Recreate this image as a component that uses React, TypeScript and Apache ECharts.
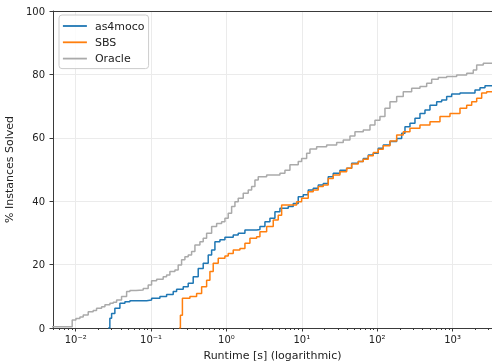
import React, { useEffect, useRef } from "react";
import * as echarts from "echarts";

// Runtime [s] and % instances solved
const oracleT = [0.004, 0.00899, 0.01007, 0.01138, 0.01259, 0.01466, 0.01706, 0.01892, 0.02208, 0.02443, 0.02844, 0.03148, 0.0349, 0.0406, 0.0474, 0.0524, 0.063, 0.0787, 0.0916, 0.1016, 0.1186, 0.1449, 0.1607, 0.1778, 0.2073, 0.2291, 0.2541, 0.2812, 0.3112, 0.3451, 0.3819, 0.4449, 0.4921, 0.5458, 0.6365, 0.7413, 0.8635, 0.9552, 1.0565, 1.172, 1.297, 1.434, 1.671, 1.947, 2.16, 2.389, 2.642, 3.417, 5.129, 5.974, 6.962, 8.972, 9.954, 11.6, 12.83, 15.74, 21.37, 29.01, 35.48, 43.55, 50.75, 65.4, 80.3, 93.5, 108.9, 126.9, 147.9, 181.5, 222, 287, 370, 454, 529, 647, 836, 1135, 1541, 1885, 2092, 2559, 3600];
const oracleP = [0.4, 2.5, 3.0, 3.5, 4.1, 5.1, 5.5, 6.2, 6.7, 7.3, 7.8, 8.1, 8.8, 9.9, 11.5, 11.8, 12.0, 12.5, 13.6, 14.9, 15.4, 16.2, 16.7, 17.8, 18.3, 19.9, 21.5, 22.5, 23.0, 24.1, 26.2, 27.2, 28.3, 29.9, 32.0, 33.0, 33.5, 34.6, 36.2, 38.3, 39.8, 40.9, 42.5, 43.5, 44.6, 46.7, 47.7, 48.3, 48.8, 49.8, 51.5, 52.5, 53.5, 55.1, 56.5, 57.2, 57.7, 58.5, 59.3, 60.6, 61.9, 62.5, 64.0, 65.5, 66.7, 69.3, 71.4, 73.0, 74.5, 75.6, 76.2, 77.2, 78.5, 79.0, 79.3, 79.8, 80.4, 81.4, 83.0, 83.5, 83.5];

const as4mocoT = [0.027, 0.0284, 0.02996, 0.0331, 0.0386, 0.045, 0.0524, 0.0873, 0.1017, 0.1311, 0.1608, 0.1968, 0.2183, 0.2672, 0.3112, 0.3625, 0.4224, 0.4921, 0.5734, 0.6362, 0.7036, 0.8198, 0.9552, 1.231, 1.434, 1.76, 2.516, 2.784, 3.243, 3.778, 4.402, 5.129, 6.609, 7.7, 8.972, 10.45, 12.18, 14.19, 16.54, 19.27, 22.44, 26.15, 32.08, 39.38, 45.87, 56.14, 65.4, 76.2, 88.8, 103.4, 120.5, 147.9, 181.5, 211.4, 233.9, 272.4, 317.5, 369.8, 430.9, 502, 616, 718, 836, 974, 1256, 1986, 2313, 2696, 3600];
const as4mocoP = [0, 3.1, 4.6, 6.2, 7.8, 8.3, 8.6, 8.8, 9.4, 9.9, 10.6, 11.5, 12.2, 13.0, 14.1, 16.2, 18.8, 20.4, 23.0, 24.6, 27.2, 27.8, 28.6, 29.3, 29.9, 30.9, 31.1, 32.0, 33.5, 34.6, 36.7, 37.8, 38.3, 39.3, 41.4, 42.0, 43.5, 44.1, 45.1, 45.6, 47.7, 48.8, 49.8, 50.4, 52.0, 52.5, 53.5, 54.6, 55.1, 56.7, 57.7, 58.8, 59.8, 61.4, 63.5, 64.6, 66.2, 67.7, 68.8, 70.3, 71.4, 71.9, 73.0, 73.8, 74.1, 75.1, 75.8, 76.4, 76.4];

const sbsT = [0.2363, 0.2451, 0.2606, 0.3279, 0.4022, 0.4688, 0.5461, 0.6039, 0.6679, 0.7784, 0.9552, 1.0565, 1.231, 1.511, 1.76, 2.051, 2.516, 2.784, 3.417, 4.179, 4.869, 5.403, 7.333, 8.545, 9.954, 12.18, 14.19, 16.54, 19.27, 22.44, 26.15, 32.08, 39.38, 45.87, 56.14, 65.4, 76.2, 88.8, 103.4, 120.5, 147.9, 181.5, 222, 272.4, 369.8, 502, 681.5, 925, 1256, 1541, 1796, 2092, 2437, 2839, 3600];
const sbsP = [0, 4.0, 9.4, 9.9, 10.9, 13.0, 15.1, 17.8, 20.4, 22.0, 22.7, 23.5, 24.6, 25.1, 26.7, 28.3, 28.8, 30.4, 32.0, 34.1, 35.6, 38.8, 38.8, 39.8, 40.9, 43.0, 43.5, 44.6, 45.1, 47.2, 48.3, 49.3, 50.4, 51.7, 52.5, 53.2, 54.3, 55.4, 56.4, 57.5, 59.0, 60.9, 61.9, 63.0, 64.0, 65.1, 66.7, 67.7, 69.3, 70.3, 71.4, 72.5, 74.1, 74.5, 74.5];

const majorTicks = [0.01, 0.1, 1, 10, 100, 1000];
const majorLabels = ["10⁻²", "10⁻¹", "10⁰", "10¹", "10²", "10³"];

const X_MIN = 0.005;
const X_MAX = 3340;

const FONT = "DejaVu Sans";

function zip(t: number[], p: number[]) {
  return t.map((v, i) => [v, p[i]]);
}

export default function App() {
  const ref = useRef<HTMLDivElement>(null);
  useEffect(() => {
    document.body.style.margin = "0";
    if (!ref.current) return;
    const chart = echarts.init(ref.current, undefined, { renderer: "svg" });

    const minorTicks: number[] = [];
    for (let k = -3; k <= 3; k++) {
      for (let m = 2; m <= 9; m++) {
        const v = parseFloat((m * Math.pow(10, k)).toPrecision(3));
        if (v >= X_MIN && v <= X_MAX) minorTicks.push(v);
      }
    }

    const spine = { color: "#3a3a3a", width: 1 };
    const tickStyle = { color: "#3a3a3a", width: 1 };
    const grid = { color: "#ebebeb", width: 1 };

    chart.setOption({
      animation: false,
      textStyle: { fontFamily: FONT },
      grid: {
        left: 53,
        right: 0,
        top: 11,
        bottom: 36,
        containLabel: false,
        outerBoundsMode: "none",
      },
      legend: {
        orient: "vertical",
        left: 59,
        top: 15,
        padding: [5, 4, 4, 3],
        itemWidth: 24,
        itemHeight: 10,
        itemGap: 4.3,
        itemStyle: { opacity: 0 },
        lineStyle: { width: 1.8 },
        backgroundColor: "rgba(255,255,255,0.85)",
        borderColor: "#cccccc",
        borderWidth: 1,
        borderRadius: 3,
        textStyle: {
          fontFamily: FONT,
          fontSize: 11,
          lineHeight: 12,
          color: "#222",
          padding: [0, 0, 0, 3],
        },
        data: ["as4moco", "SBS", "Oracle"],
      },
      xAxis: [
        {
          type: "log",
          min: X_MIN,
          max: X_MAX,
          position: "bottom",
          name: "Runtime [s] (logarithmic)",
          nameLocation: "middle",
          nameGap: 22,
          nameTextStyle: { fontFamily: FONT, fontSize: 11, color: "#222" },
          axisLine: { show: true, onZero: false, lineStyle: spine },
          axisTick: { show: true, customValues: majorTicks, length: 3.5, lineStyle: tickStyle },
          axisLabel: {
            customValues: majorTicks,
            fontFamily: FONT,
            fontSize: 10,
            color: "#222",
            margin: 6,
            formatter: (v: number) => {
              const i = majorTicks.findIndex((m) => Math.abs(Math.log10(m) - Math.log10(v)) < 1e-6);
              return i >= 0 ? majorLabels[i] : "";
            },
          },
          splitLine: { show: true, lineStyle: grid },
        },
        {
          type: "log",
          min: X_MIN,
          max: X_MAX,
          position: "bottom",
          axisLine: { show: false },
          axisTick: { show: true, customValues: minorTicks, length: 2, lineStyle: tickStyle },
          axisLabel: { show: false },
          splitLine: { show: false },
        },
        {
          type: "log",
          min: X_MIN,
          max: X_MAX,
          position: "top",
          axisLine: { show: true, onZero: false, lineStyle: spine },
          axisTick: { show: false },
          axisLabel: { show: false },
          splitLine: { show: false },
        },
      ],
      yAxis: {
        type: "value",
        min: 0,
        max: 100,
        interval: 20,
        name: "% Instances Solved",
        nameLocation: "middle",
        nameGap: 34,
        nameTextStyle: { fontFamily: FONT, fontSize: 11, color: "#222" },
        axisLine: { show: true, lineStyle: spine },
        axisTick: { show: true, length: 3.5, lineStyle: tickStyle },
        axisLabel: { fontFamily: FONT, fontSize: 10, color: "#222", margin: 8 },
        splitLine: { show: true, lineStyle: grid },
      },
      series: [
        {
          name: "as4moco",
          type: "line",
          step: "end",
          symbol: "none",
          xAxisIndex: 0,
          data: zip(as4mocoT, as4mocoP),
          lineStyle: { color: "#1f77b4", width: 1.5 },
          itemStyle: { color: "#1f77b4" },
        },
        {
          name: "SBS",
          type: "line",
          step: "end",
          symbol: "none",
          xAxisIndex: 0,
          data: zip(sbsT, sbsP),
          lineStyle: { color: "#ff7f0e", width: 1.5 },
          itemStyle: { color: "#ff7f0e" },
        },
        {
          name: "Oracle",
          type: "line",
          step: "end",
          symbol: "none",
          xAxisIndex: 0,
          data: zip(oracleT, oracleP),
          lineStyle: { color: "#aaaaaa", width: 1.5 },
          itemStyle: { color: "#aaaaaa" },
        },
      ],
    });
    return () => chart.dispose();
  }, []);
  return (
    <div
      ref={ref}
      style={{ position: "fixed", left: 0, top: 0, width: 492, height: 364 }}
    />
  );
}
